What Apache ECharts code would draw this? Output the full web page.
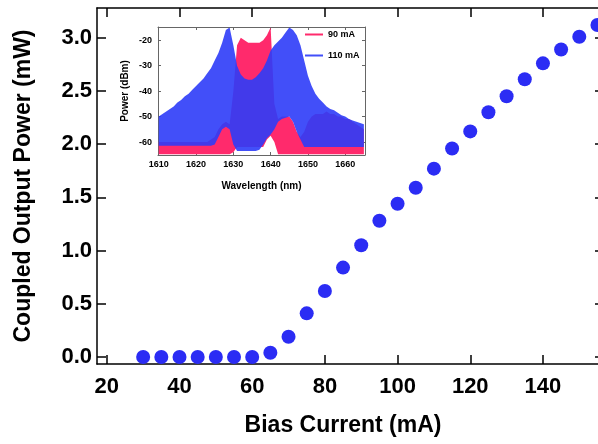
<!DOCTYPE html>
<html>
<head>
<meta charset="utf-8">
<script src="https://cdn.jsdelivr.net/npm/echarts@6/dist/echarts.min.js"></script>
<style>
html,body{margin:0;padding:0;background:#fff;overflow:hidden;}
#wrap{width:598px;height:444px;overflow:hidden;}
#chart{width:606px;height:444px;}
</style>
</head>
<body>
<div id="wrap"><div id="chart"></div></div>
<script>
// ---- main L-I data ----
const biasCurrent = [30,35,40,45,50,55,60,65,70,75,80,85,90,95,100,105,110,115,120,125,130,135,140,145,150,155];
const coupledPower = [0.00,0.00,0.00,0.00,0.00,0.00,0.00,0.04,0.19,0.41,0.62,0.84,1.05,1.28,1.44,1.59,1.77,1.96,2.12,2.30,2.45,2.61,2.76,2.89,3.01,3.12];
const xTicks = [20,40,60,80,100,120,140];
const yTicks = [0,0.5,1.0,1.5,2.0,2.5,3.0];

// ---- inset spectra (envelopes, dBm) ----
const wavelength = [1610,1611,1612,1613,1614,1615,1616,1617,1618,1619,1620,1621,1622,1623,1624,1625,1626,1627,1628,1629,1630,1631,1632,1633,1634,1635,1636,1637,1638,1639,1640,1641,1642,1643,1644,1645,1646,1647,1648,1649,1650,1651,1652,1653,1654,1655,1656,1657,1658,1659,1660,1661,1662,1663,1664,1665];
const top110 = [-50,-49,-48,-47,-46,-44.5,-43.5,-42,-41,-39.5,-38,-36.5,-35,-33,-31,-28,-25,-21,-16,-15,-22,-30,-33.5,-35,-35.5,-35.5,-34.5,-33,-31,-28,-24,-22,-20.5,-19,-17,-15,-16,-18,-22,-28,-34,-38,-41,-43,-44.5,-46,-47,-47.5,-48.5,-49.5,-50,-51,-51.5,-52,-52.5,-53];
const bot110 = [-61.5,-61.5,-61.5,-61.5,-61.5,-61.5,-61.5,-61.5,-61.5,-61.5,-61.5,-61.5,-61.5,-61.5,-61.5,-61,-58,-55,-54,-55,-61,-63.5,-63.5,-63.5,-63.5,-63.5,-63.5,-63,-61,-58.5,-57,-55,-52,-51,-50.5,-50,-52,-56,-59,-62,-62,-62,-62,-62,-62,-62,-62,-62,-62,-62,-62,-62,-62,-62,-62,-62];
const top90 = [-60,-60,-60,-60,-60,-60,-60,-60,-60,-60,-60,-60,-60,-60,-59,-58,-55,-53,-52,-53,-40,-22,-19,-20,-21,-21,-21,-21,-20,-18,-15,-45,-51,-50,-50,-50,-52,-56,-58,-56,-52,-50,-49,-49,-49,-48,-49,-49,-50,-50,-51,-51,-52,-53,-54,-55];
const bot90 = [-64.8,-64.8,-64.8,-64.8,-64.8,-64.8,-64.8,-64.8,-64.8,-64.8,-64.8,-64.8,-64.8,-64.8,-64.8,-64.8,-64.8,-64.8,-64.8,-64.8,-64,-62,-62,-62,-62,-62,-62,-62,-62,-59,-57.5,-60,-64.8,-64.8,-64.8,-64.8,-64.8,-64.8,-64.8,-64.8,-64.8,-64.8,-64.8,-64.8,-64.8,-64.8,-64.8,-64.8,-64.8,-64.8,-64.8,-64.8,-64.8,-64.8,-64.8,-64.8];
const insetXTicks = [1610,1620,1630,1640,1650,1660];
const insetYTicks = [-60,-50,-40,-30,-20];

const FONT = '"Liberation Sans", Arial, Helvetica, sans-serif';
const chart = echarts.init(document.getElementById('chart'), null, {renderer:'canvas'});

function band(topArr, botArr) {
  return function (params, api) {
    if (params.dataIndex !== 0) return null;
    const pts = [];
    for (let i = 0; i < wavelength.length; i++) pts.push(api.coord([wavelength[i], topArr[i]]));
    for (let i = wavelength.length - 1; i >= 0; i--) pts.push(api.coord([wavelength[i], botArr[i]]));
    return {
      type: 'polygon',
      shape: { points: pts },
      style: { fill: api.visual('color') }
    };
  };
}

const mainTickCommon = { show: true, inside: true, length: 9, lineStyle: { color: '#000', width: 1.5 } };
const insetTickCommon = { show: true, inside: true, length: 3, lineStyle: { color: '#666', width: 1 } };

chart.setOption({
  animation: false,
  backgroundColor: '#fff',
  grid: [
    { left: 97, right: 2, top: 8, bottom: 80 },
    { left: 158, top: 27, width: 207, height: 128 }
  ],
  legend: {
    data: ['90 mA', '110 mA'],
    orient: 'vertical',
    left: 300, top: 25,
    icon: 'rect', itemWidth: 18, itemHeight: 2, itemGap: 12,
    textStyle: { fontFamily: FONT, fontWeight: 'bold', fontSize: 9, color: '#000' }
  },
  xAxis: [
    { gridIndex: 0, type: 'value', min: 17.3, max: 156.8, position: 'bottom',
      name: 'Bias Current (mA)', nameLocation: 'middle', nameGap: 50,
      nameTextStyle: { fontFamily: FONT, fontWeight: 'bold', fontSize: 23, color: '#000', padding: [0, 15, 0, 0] },
      axisLine: { show: true, onZero: false, lineStyle: { color: '#000', width: 1.5 } },
      axisTick: Object.assign({ customValues: xTicks }, mainTickCommon),
      axisLabel: { customValues: xTicks, margin: 12, fontFamily: FONT, fontWeight: 'bold', fontSize: 22, color: '#000' },
      splitLine: { show: false } },
    { gridIndex: 0, type: 'value', min: 17.3, max: 156.8, position: 'top',
      axisLine: { show: true, onZero: false, lineStyle: { color: '#000', width: 1.5 } },
      axisTick: Object.assign({ customValues: xTicks }, mainTickCommon),
      axisLabel: { show: false }, splitLine: { show: false } },
    { gridIndex: 1, type: 'value', min: 1609.8, max: 1665.3, position: 'bottom',
      name: 'Wavelength (nm)', nameLocation: 'middle', nameGap: 26,
      nameTextStyle: { fontFamily: FONT, fontWeight: 'bold', fontSize: 10, color: '#000' },
      axisLine: { show: true, onZero: false, lineStyle: { color: '#666', width: 1 } },
      axisTick: Object.assign({ customValues: insetXTicks }, insetTickCommon),
      axisLabel: { customValues: insetXTicks, margin: 5, fontFamily: FONT, fontWeight: 'bold', fontSize: 9, color: '#000',
        formatter: v => String(v) },
      splitLine: { show: false } },
    { gridIndex: 1, type: 'value', min: 1609.8, max: 1665.3, position: 'top',
      axisLine: { show: true, onZero: false, lineStyle: { color: '#666', width: 1 } },
      axisTick: Object.assign({ customValues: insetXTicks }, insetTickCommon),
      axisLabel: { show: false }, splitLine: { show: false } }
  ],
  yAxis: [
    { gridIndex: 0, type: 'value', min: -0.066, max: 3.28, position: 'left',
      name: 'Coupled Output Power (mW)', nameLocation: 'middle', nameGap: 62, nameRotate: 90,
      nameTextStyle: { fontFamily: FONT, fontWeight: 'bold', fontSize: 23, color: '#000' },
      axisLine: { show: true, onZero: false, lineStyle: { color: '#000', width: 1.5 } },
      axisTick: Object.assign({ customValues: yTicks }, mainTickCommon),
      axisLabel: { customValues: yTicks, margin: 5, fontFamily: FONT, fontWeight: 'bold', fontSize: 22, color: '#000',
        formatter: v => v.toFixed(1) },
      splitLine: { show: false } },
    { gridIndex: 0, type: 'value', min: -0.066, max: 3.28, position: 'right',
      axisLine: { show: true, onZero: false, lineStyle: { color: '#000', width: 1.5 } },
      axisTick: Object.assign({ customValues: yTicks }, mainTickCommon),
      axisLabel: { show: false }, splitLine: { show: false } },
    { gridIndex: 1, type: 'value', min: -65.1, max: -14.8, position: 'left',
      name: 'Power (dBm)', nameLocation: 'middle', nameGap: 28, nameRotate: 90,
      nameTextStyle: { fontFamily: FONT, fontWeight: 'bold', fontSize: 10, color: '#000' },
      axisLine: { show: true, onZero: false, lineStyle: { color: '#666', width: 1 } },
      axisTick: Object.assign({ customValues: insetYTicks }, insetTickCommon),
      axisLabel: { customValues: insetYTicks, margin: 6, fontFamily: FONT, fontWeight: 'bold', fontSize: 9, color: '#000' },
      splitLine: { show: false } },
    { gridIndex: 1, type: 'value', min: -65.1, max: -14.8, position: 'right',
      axisLine: { show: true, onZero: false, lineStyle: { color: '#666', width: 1 } },
      axisTick: Object.assign({ customValues: insetYTicks }, insetTickCommon),
      axisLabel: { show: false }, splitLine: { show: false } }
  ],
  series: [
    { name: 'Output', type: 'scatter', xAxisIndex: 0, yAxisIndex: 0,
      data: biasCurrent.map((x, i) => [x, coupledPower[i]]),
      symbol: 'circle', symbolSize: 14, clip: false,
      itemStyle: { color: '#2b2cf4', opacity: 1 } },
    { name: '90 mA', type: 'custom', xAxisIndex: 2, yAxisIndex: 2, clip: true,
      data: [[wavelength[0], top90[0]]],
      itemStyle: { color: '#ff2a6c' },
      renderItem: band(top90, bot90), z: 3 },
    { name: '110 mA', type: 'custom', xAxisIndex: 2, yAxisIndex: 2, clip: true,
      data: [[wavelength[0], top110[0]]],
      itemStyle: { color: 'rgba(45,60,248,0.9)' },
      renderItem: band(top110, bot110), z: 4 }
  ]
});
</script>
</body>
</html>
